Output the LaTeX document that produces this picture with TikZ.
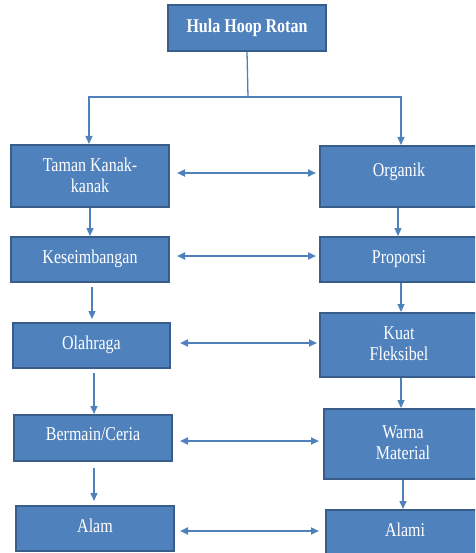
\documentclass[tikz,border=0pt]{standalone}
\usepackage{fontspec}
\setmainfont{Liberation Serif}
\usetikzlibrary{arrows.meta,calc}
\definecolor{boxfill}{HTML}{4F81BD}
\definecolor{boxline}{HTML}{385D8A}
\definecolor{arrcol}{HTML}{4F81BD}
\newcommand{\st}[1]{\scalebox{1}[1.22]{#1}}
\tikzset{
  box/.style={draw=boxline, line width=2pt, fill=boxfill, text=white, inner sep=0pt,
    align=center, font=\fontsize{16}{21}\selectfont},
  arr/.style={draw=arrcol, line width=1.3pt, -{Triangle[length=8pt,width=7pt]}},
  darr/.style={draw=arrcol, line width=2pt, {Triangle[length=8pt,width=7pt]}-{Triangle[length=8pt,width=7pt]}},
  link/.style={draw=arrcol, line width=1.3pt}
}
\newcommand{\mkbox}[6]{% name, left, top, right, bottom, text
  \node[box, minimum width={(#4-#2)*1pt}, minimum height={(#5-#3)*1pt}]
    (#1) at ({(#2+#4)/2*1pt},{-(#3+#5)/2*1pt}) {#6};}
\begin{document}
\begin{tikzpicture}
\useasboundingbox (0,0) rectangle (475pt,-553pt);
\begin{scope}
\clip (0,0) rectangle (475pt,-553pt);
\mkbox{T}{168}{5}{326}{51}{\raisebox{4pt}{\st{\bfseries Hula Hoop Rotan}}}
\mkbox{L1}{11}{145}{169}{207}{\raisebox{2pt}{\st{Taman Kanak-}}\\\raisebox{2pt}{\st{kanak}}}
\mkbox{L2}{11}{237}{169}{282}{\raisebox{5pt}{\st{Keseimbangan}}}
\mkbox{L3}{13}{323}{170}{368}{\raisebox{5pt}{\st{Olahraga}}}
\mkbox{L4}{14}{415}{172}{461}{\raisebox{7pt}{\st{Bermain/Ceria}}}
\mkbox{L5}{16}{506}{174}{551}{\raisebox{6pt}{\st{Alam}}}
\mkbox{R1}{320}{146}{478}{207}{\raisebox{13pt}{\st{Organik}}}
\mkbox{R2}{320}{237}{478}{282}{\raisebox{5pt}{\st{Proporsi}}}
\mkbox{R3}{320}{313}{478}{377}{\raisebox{2pt}{\st{Kuat}}\\\raisebox{2pt}{\st{Fleksibel}}}
\mkbox{R4}{324}{409}{482}{479}{\raisebox{2pt}{\st{Warna}}\\\raisebox{2pt}{\st{Material}}}
\mkbox{R5}{326}{510}{484}{556}{\raisebox{7pt}{\st{Alami}}}
\end{scope}
% top split
\coordinate (S) at (248pt,-97pt);
\draw[link] (T.south) -- (S);
\draw[arr] (S) -| ([xshift=-1pt]L1.north);
\draw[arr] (S) -| ([xshift=2pt]R1.north);
% left column
\draw[arr] (L1.south) -- (L2.north);
\draw[arr] ([xshift=2pt,yshift=-4pt]L2.south) -- ([xshift=2pt,yshift=3pt]L2.south |- L3.north);
\draw[arr] ([xshift=2.5pt,yshift=-4pt]L3.south) -- ([xshift=2.5pt,yshift=0pt]L3.south |- L4.north);
\draw[arr] ([xshift=1pt,yshift=-6pt]L4.south) -- ([xshift=1pt,yshift=4pt]L4.south |- L5.north);
% right column
\draw[arr] ([xshift=-1pt]R1.south) -- ([xshift=-1pt]R1.south |- R2.north);
\draw[arr] ([xshift=2pt]R2.south) -- ([xshift=2pt]R2.south |- R3.north);
\draw[arr] ([xshift=2pt]R3.south) -- ([xshift=2pt]R3.south |- R4.north);
\draw[arr] (R4.south) -- (R4.south |- R5.north);
% horizontal double arrows
\draw[darr] ($(L1.east)+(7pt,3pt)$) -- ($(L1.east -| R1.west)+(-3pt,3pt)$);
\draw[darr] ($(L2.east)+(7pt,3.5pt)$) -- ($(L2.east -| R2.west)+(-3pt,3.5pt)$);
\draw[darr] ($(L3.east)+(9pt,2.5pt)$) -- ($(L3.east -| R3.west)+(-2pt,2.5pt)$);
\draw[darr] ($(L4.east)+(7pt,-3pt)$) -- ($(L4.east -| R4.west)+(-4pt,-3pt)$);
\draw[darr] ($(L5.east)+(5pt,-2.5pt)$) -- ($(L5.east -| R5.west)+(-6pt,-2.5pt)$);
\end{tikzpicture}
\end{document}
